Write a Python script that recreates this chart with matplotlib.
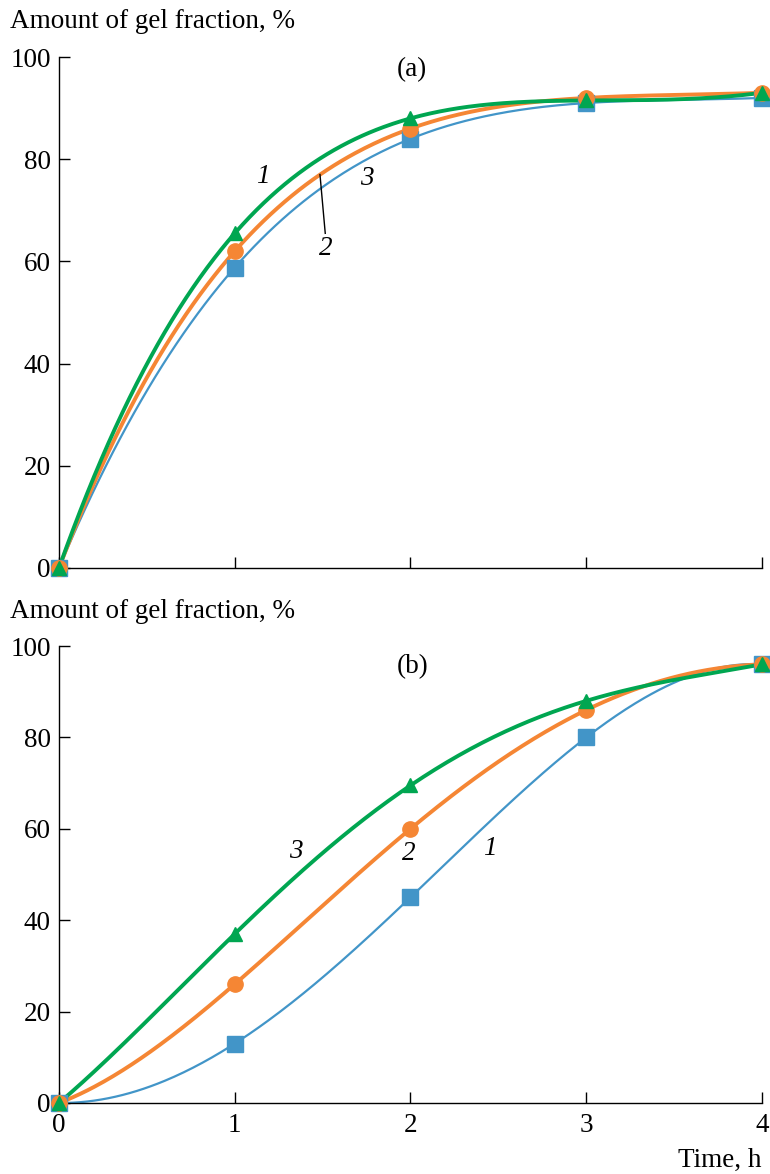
import numpy as np
import matplotlib.pyplot as plt

plt.rcParams['font.family'] = ['Liberation Serif', 'DejaVu Serif']

# time points, h
time_h = [0, 1, 2, 3, 4]

# panel (a)
gel_a1 = [0, 65.5, 88.0, 91.5, 93.0]
gel_a2 = [0, 62.0, 86.0, 92.0, 93.0]
gel_a3 = [0, 58.8, 84.0, 91.0, 92.0]

# panel (b)
gel_b1 = [0, 13.0, 45.0, 80.0, 96.0]
gel_b2 = [0, 26.0, 60.0, 86.0, 96.0]
gel_b3 = [0, 37.0, 69.5, 88.0, 96.0]

y_ticks = [0, 20, 40, 60, 80, 100]
x_ticks = [0, 1, 2, 3, 4]

BLUE = '#4295c8'
ORANGE = '#f58634'
GREEN = '#00a651'
FS = 19.5


def draw_series(ax, y, color, marker, lw, ms, z):
    # smooth curve: polynomial through all the points
    coef = np.polyfit(time_h, y, len(time_h) - 1)
    xs = np.linspace(0, 4, 300)
    ax.plot(xs, np.polyval(coef, xs), color=color, lw=lw, zorder=z,
            clip_on=False)
    ax.plot(time_h, y, ls='none', marker=marker, color=color, ms=ms,
            zorder=z + 3, clip_on=False)


def style_axes(ax, show_xlabels):
    ax.set_xlim(0, 4)
    ax.set_ylim(0, 100)
    for s in ['top', 'right']:
        ax.spines[s].set_visible(False)
    for s in ['left', 'bottom']:
        ax.spines[s].set_linewidth(1.0)
    ax.set_yticks(y_ticks)
    ax.set_xticks(x_ticks)
    ax.tick_params(direction='in', length=8, width=1.0, labelsize=FS, pad=6)
    if not show_xlabels:
        ax.set_xticklabels([])
    ax.tick_params(axis='x', pad=7)


fig = plt.figure(figsize=(7.7, 11.74), dpi=100)
ax_a = fig.add_axes([0.0766, 0.5162, 0.913, 0.4352])
ax_b = fig.add_axes([0.0766, 0.0605, 0.913, 0.3892])

# panel (a)
draw_series(ax_a, gel_a3, BLUE, 's', 1.6, 11, 2)
draw_series(ax_a, gel_a2, ORANGE, 'o', 2.8, 11, 3)
draw_series(ax_a, gel_a1, GREEN, '^', 2.8, 10, 4)
style_axes(ax_a, False)
ax_a.text(2.01, 97.5, '(a)', ha='center', va='center', fontsize=FS)
ax_a.text(1.16, 76.7, '1', ha='center', va='center', fontsize=FS, style='italic')
ax_a.text(1.75, 76.3, '3', ha='center', va='center', fontsize=FS, style='italic')
ax_a.text(1.52, 62.6, '2', ha='center', va='center', fontsize=FS, style='italic')
ax_a.plot([1.485, 1.515], [77.0, 65.5], color='black', lw=1.0, zorder=6)

# panel (b)
draw_series(ax_b, gel_b1, BLUE, 's', 1.6, 11, 2)
draw_series(ax_b, gel_b2, ORANGE, 'o', 2.8, 11, 3)
draw_series(ax_b, gel_b3, GREEN, '^', 2.8, 10, 4)
style_axes(ax_b, True)
ax_b.text(2.01, 95.4, '(b)', ha='center', va='center', fontsize=FS)
ax_b.text(1.35, 55.1, '3', ha='center', va='center', fontsize=FS, style='italic')
ax_b.text(1.99, 54.7, '2', ha='center', va='center', fontsize=FS, style='italic')
ax_b.text(2.45, 55.8, '1', ha='center', va='center', fontsize=FS, style='italic')

fig.text(0.013, 1 - 22 / 1174, 'Amount of gel fraction, %', ha='left',
         va='center', fontsize=FS)
fig.text(0.013, 1 - 612 / 1174, 'Amount of gel fraction, %', ha='left',
         va='center', fontsize=FS)
fig.text(0.9896, 1 - 1160 / 1174, 'Time, h', ha='right', va='center',
         fontsize=FS)

fig.savefig('out.png', dpi=100)
